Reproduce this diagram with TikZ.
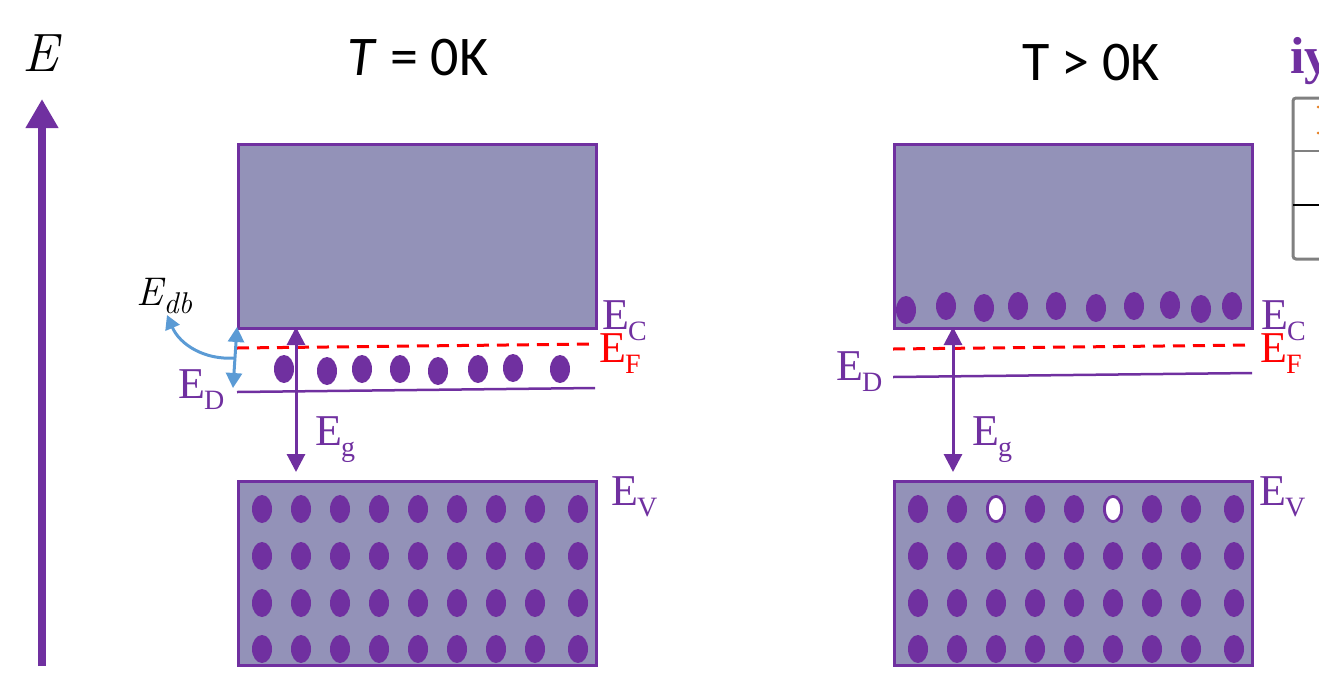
\documentclass[tikz,border=0pt]{standalone}
\usepackage{fontspec}
\setmainfont{Liberation Serif}
\newfontfamily\titlefont{Carlito}
\newfontfamily\lmfont{Latin Modern Roman}
\usetikzlibrary{arrows.meta}
\definecolor{pur}{RGB}{112,48,160}
\definecolor{bandfill}{RGB}{147,146,184}
\definecolor{blu}{RGB}{91,155,213}
\definecolor{tgray}{RGB}{128,128,128}
\definecolor{torange}{RGB}{230,130,40}
\newcommand\elab[1]{\fontsize{44}{44}\selectfont E\kern-1pt\raisebox{-11pt}{\fontsize{28}{28}\selectfont #1}}
\tikzset{
  bandbox/.style={draw=pur,line width=2.5pt,fill=bandfill,anchor=north west,inner sep=0pt,minimum width=358pt,minimum height=184pt},
  elec/.style={fill=pur},
  hole/.style={fill=white,draw=pur,line width=2.5pt},
  lvl/.style={draw=pur,line width=2.5pt},
  fermi/.style={draw=red,line width=3pt,dash pattern=on 12pt off 8pt},
  egarrow/.style={draw=pur,line width=3pt,{Triangle[width=18pt,length=18pt]}-{Triangle[width=18pt,length=18pt]}},
  dbarrow/.style={draw=blu,line width=3pt,{Triangle[width=16pt,length=15pt]}-{Triangle[width=16pt,length=15pt]}},
  dbcurve/.style={draw=blu,line width=3pt,-{Triangle[width=15pt,length=14pt]}},
  purlab/.style={text=pur,anchor=base west,inner sep=0pt},
  redlab/.style={text=red,anchor=base west,inner sep=0pt},
  title/.style={anchor=base,inner sep=0pt,font=\titlefont\fontsize{56}{56}\selectfont}
}
\begin{document}
\begin{tikzpicture}[x=1pt,y=-1pt]
\useasboundingbox (0,0) rectangle (1319,689);
\clip (0,0) rectangle (1319,689);
% axis
\coordinate (axb) at (42,666);
\coordinate (axt) at (42,99);
\draw[pur,line width=8pt,-{Triangle[width=31pt,length=29pt]}] (axb) -- (axt);
\node[anchor=base,inner sep=0pt] (axlab) at (40,71) {\lmfont\itshape\fontsize{54}{54}\selectfont E};
% titles
\node[title] (t0) at (418,75) {\textit{T} = 0K};
\node[title] (t1) at (1091,80) {T > 0K};
% bands
\node[bandbox] (cbL) at (237,143) {};
\node[bandbox] (vbL) at (237,480) {};
\node[bandbox] (cbR) at (893,143) {};
\node[bandbox] (vbR) at (893,480) {};
% valence electrons
\foreach \y in {509,556,603,649}{
  \foreach \x in {262,301,340,379,418,457,496,535,578}{
    \fill[elec] (\x,\y) ellipse [x radius=10pt, y radius=14pt];
  }
  \foreach \x in {918,957,996,1035,1074,1113,1152,1191,1234}{
    \fill[elec] (\x,\y) ellipse [x radius=10pt, y radius=14pt];
  }
}
\filldraw[hole] (996,509) ellipse [x radius=8.5pt, y radius=12.5pt];
\filldraw[hole] (1113,509) ellipse [x radius=8.5pt, y radius=12.5pt];
% conduction electrons right
\foreach \x/\y in {906/310,946/306,984/308,1018/306,1056/306,1096/308,1134/306,1170/305,1201/309,1232/306}{
  \fill[elec] (\x,\y) ellipse [x radius=10pt, y radius=14pt];
}
% donor electrons left
\foreach \x/\y in {284/369,327/371,362/369,400/369,438/371,478/369,513/368,560/369}{
  \fill[elec] (\x,\y) ellipse [x radius=10pt, y radius=14pt];
}
% levels
\coordinate (efL1) at (237,348); \coordinate (efL2) at (595,344);
\coordinate (edL1) at (237,392); \coordinate (edL2) at (595,388);
\coordinate (efR1) at (893,349); \coordinate (efR2) at (1252,345);
\coordinate (edR1) at (893,377); \coordinate (edR2) at (1252,373);
\draw[fermi] (efL1) -- (efL2);
\draw[fermi] (efR1) -- (efR2);
\draw[lvl] (edL1) -- (edL2);
\draw[lvl] (edR1) -- (edR2);
% Eg arrows
\coordinate (egLt) at (296,327); \coordinate (egLb) at (296,472);
\coordinate (egRt) at (953,327); \coordinate (egRb) at (953,472);
\draw[egarrow] (egLb) -- (egLt);
\draw[egarrow] (egRb) -- (egRt);
% E_db arrows
\coordinate (dbt) at (237,327); \coordinate (dbb) at (233,388);
\coordinate (dbm) at (234,358); \coordinate (dbe) at (167,315);
\draw[dbarrow] (dbb) -- (dbt);
\draw[dbcurve] (dbm) .. controls (205,360) and (180,345) .. (dbe);
\node[anchor=base west,inner sep=0pt] (dblab) at (136,305) {\lmfont\itshape\fontsize{40}{40}\selectfont E\kern1pt\raisebox{-8pt}{\fontsize{30}{30}\selectfont db}};
% labels left
\node[purlab] (ecL) at (602,329) {\elab{C}};
\node[redlab] (efL) at (599,362) {\elab{F}};
\node[purlab] (edL) at (178,398) {\elab{D}};
\node[purlab] (egL) at (315,445) {\elab{g}};
\node[purlab] (evL) at (611,505) {\elab{V}};
% labels right
\node[purlab] (ecR) at (1261,329) {\elab{C}};
\node[redlab] (efR) at (1260,362) {\elab{F}};
\node[purlab] (edR) at (836,380) {\elab{D}};
\node[purlab] (egR) at (972,445) {\elab{g}};
\node[purlab] (evR) at (1259,505) {\elab{V}};
% clipped fragments at right edge
\node[anchor=base west,inner sep=0pt,text=pur,font=\bfseries\fontsize{52}{52}\selectfont] (frag) at (1290,73) {iy};
\draw[tgray,line width=3pt,rounded corners=3pt] (1293,98) rectangle (1340,259);
\draw[tgray,line width=2pt] (1293,151) -- (1340,151);
\draw[black,line width=2pt] (1293,205) -- (1340,205);
\fill[torange] (1318,107) circle (1.5pt);
\fill[torange] (1318,133) circle (1.5pt);
\end{tikzpicture}
\end{document}
